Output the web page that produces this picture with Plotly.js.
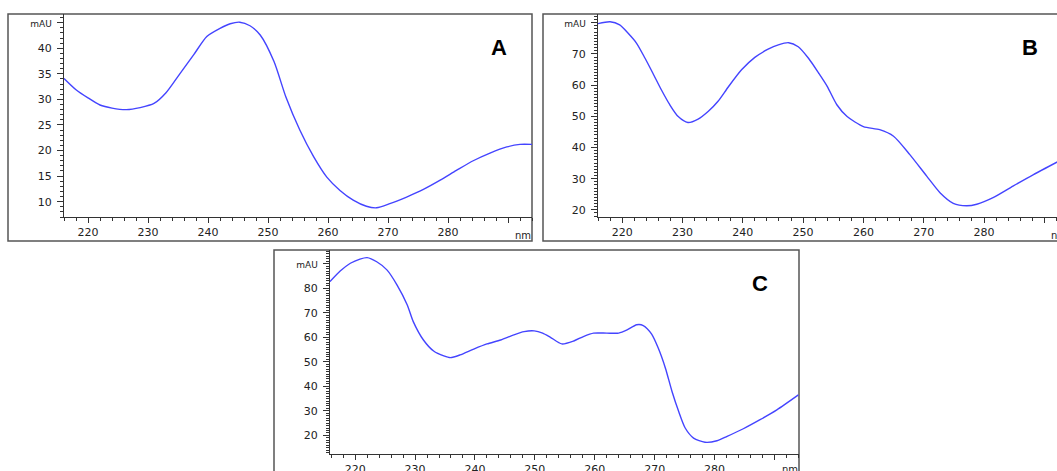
<!DOCTYPE html>
<html>
<head>
<meta charset="utf-8">
<script src="https://cdn.plot.ly/plotly-3.0.1.min.js"></script>
<style>
  html, body { margin: 0; padding: 0; background: #fff; }
  #chart { width: 1057px; height: 471px; }
</style>
</head>
<body>
<div id="chart"></div>
<script>
// UV spectra (absorbance in mAU against wavelength in nm) for three samples
const wavelengthA = [216, 218, 220, 222, 224, 226.4, 228.7, 231, 233, 235.3, 237.6, 239.8, 242, 243.7, 245.3, 247, 248.7, 251, 253, 255.3, 257.6, 259.8, 262, 264.2, 266.4, 268.1, 270.3, 273.1, 275.9, 278.7, 281.4, 284.2, 287, 289.8, 292, 294];
const absorbanceA = [34.1, 31.9, 30.3, 28.9, 28.3, 28.0, 28.4, 29.2, 31.3, 35.0, 38.7, 42.3, 43.9, 44.8, 45.1, 44.4, 42.6, 37.4, 30.4, 24.0, 18.8, 14.8, 12.2, 10.3, 9.1, 8.8, 9.6, 10.9, 12.4, 14.2, 16.1, 18.0, 19.5, 20.7, 21.2, 21.2];

const wavelengthB = [216, 218, 219.6, 221, 222.4, 223.8, 225.1, 226.5, 227.9, 229.3, 230.9, 232.6, 234.3, 235.9, 237.6, 239.8, 242, 244.2, 245.9, 247.6, 249.2, 250.9, 252.6, 254, 255.6, 257.3, 260, 262.7, 265, 267.7, 270.5, 272.7, 274.9, 277.1, 278.8, 281.5, 284.8, 288.2, 292.2];
const absorbanceB = [79.7, 80.3, 79.3, 76.6, 73.4, 68.6, 63.8, 58.5, 53.7, 49.9, 48.0, 49.1, 51.6, 54.8, 59.4, 64.9, 68.9, 71.5, 72.9, 73.6, 72.3, 68.6, 63.8, 59.6, 53.7, 49.9, 46.7, 45.7, 43.6, 37.7, 30.8, 25.5, 22.1, 21.3, 21.8, 23.9, 27.6, 31.3, 35.4];

const wavelengthC = [215.8, 217.5, 219.2, 220.8, 222, 223.6, 225.3, 227, 228.7, 229.7, 231.4, 233.1, 234.8, 235.9, 237.5, 239.8, 242, 244.3, 246.5, 248.2, 249.9, 251.3, 252.6, 254.5, 256.5, 258.1, 259.8, 262, 264, 265.4, 267, 268.1, 269.5, 270.6, 271.8, 272.9, 274, 275.1, 276.5, 278.4, 280.4, 282.1, 284.8, 287.6, 290.4, 294];
const absorbanceC = [82.7, 87.0, 90.2, 91.9, 92.5, 90.8, 87.5, 81.3, 73.2, 66.4, 58.9, 54.4, 52.4, 51.7, 52.8, 55.2, 57.3, 58.9, 61.0, 62.3, 62.6, 61.7, 60.0, 57.3, 58.5, 60.3, 61.7, 61.7, 61.7, 63.0, 65.1, 64.8, 61.3, 55.6, 47.4, 37.9, 29.8, 23.0, 18.9, 17.2, 17.8, 19.6, 22.7, 26.4, 30.4, 36.5];

// Tick positions and labels; the topmost y tick carries the unit instead of a number
const xTickVals = [220, 230, 240, 250, 260, 270, 280, 290];
const xTickText = ['220', '230', '240', '250', '260', '270', '280', ''];
const yTickValsA = [10, 15, 20, 25, 30, 35, 40, 45];
const yTickTextA = ['10', '15', '20', '25', '30', '35', '40', 'mAU'];
const yTickValsB = [20, 30, 40, 50, 60, 70, 80];
const yTickTextB = ['20', '30', '40', '50', '60', '70', 'mAU'];
const yTickValsC = [20, 30, 40, 50, 60, 70, 80, 90];
const yTickTextC = ['20', '30', '40', '50', '60', '70', '80', 'mAU'];
const panelLabels = ['A', 'B', 'C'];
const xUnit = 'nm';

const W = 1057, H = 471;
const px = v => v / W;
const py = v => 1 - v / H;

const lineColor = '#4444ff';
const axisColor = '#333333';
const tickFont = { family: 'DejaVu Sans, Verdana, sans-serif', size: 11, color: '#222' };

function unitText(arr) {
  return arr.map(t => t === 'mAU' ? '<span style="font-size:9px">mAU</span>' : t);
}

function xAxis(domain, range, anchor) {
  return {
    domain: domain, range: range, anchor: anchor,
    showgrid: false, zeroline: false, showline: true, linecolor: axisColor, linewidth: 1,
    ticks: 'outside', ticklen: 5, tickwidth: 1, tickcolor: axisColor,
    tickmode: 'array', tickvals: xTickVals, ticktext: xTickText,
    tickfont: tickFont,
    minor: { dtick: 2, tick0: 220, ticks: 'outside', ticklen: 3, tickcolor: axisColor, showgrid: false }
  };
}

function yAxis(domain, range, anchor, vals, text, minorStep) {
  return {
    domain: domain, range: range, anchor: anchor,
    showgrid: false, zeroline: false, showline: true, linecolor: axisColor, linewidth: 1,
    ticks: 'outside', ticklen: 6, tickwidth: 1, tickcolor: axisColor,
    tickmode: 'array', tickvals: vals, ticktext: unitText(text),
    tickfont: tickFont, ticklabelstandoff: 3,
    minor: { dtick: minorStep, tick0: 0, ticks: 'outside', ticklen: 3, tickcolor: axisColor, showgrid: false }
  };
}

const traces = [
  { x: wavelengthA, y: absorbanceA, xaxis: 'x', yaxis: 'y' },
  { x: wavelengthB, y: absorbanceB, xaxis: 'x2', yaxis: 'y2' },
  { x: wavelengthC, y: absorbanceC, xaxis: 'x3', yaxis: 'y3' }
].map(t => Object.assign(t, {
  type: 'scatter', mode: 'lines', hoverinfo: 'skip', showlegend: false,
  line: { color: lineColor, width: 1.4, shape: 'spline', smoothing: 0.7 },
  cliponaxis: true
}));

const topRowY = [py(217), py(14)];
const bottomRowY = [py(454), py(250)];

const frame = { type: 'rect', xref: 'paper', yref: 'paper', line: { color: '#555', width: 1.5 }, fillcolor: 'rgba(0,0,0,0)', layer: 'below' };

const layout = {
  width: W, height: H,
  margin: { l: 0, r: 0, t: 0, b: 0, pad: 0 },
  paper_bgcolor: '#fff', plot_bgcolor: '#fff',
  font: tickFont,
  xaxis: xAxis([px(64), px(532)], [216, 294], 'y'),
  yaxis: yAxis(topRowY, [7.0, 46.7], 'x', yTickValsA, yTickTextA, 1),
  xaxis2: xAxis([px(598), 1], [216, 292.1], 'y2'),
  yaxis2: yAxis(topRowY, [17.7, 82.8], 'x2', yTickValsB, yTickTextB, 1),
  xaxis3: xAxis([px(330), px(799)], [215.8, 294.1], 'y3'),
  yaxis3: yAxis(bottomRowY, [12.4, 95.6], 'x3', yTickValsC, yTickTextC, 1),
  shapes: [
    Object.assign({}, frame, { x0: px(8), x1: px(532), y0: py(241), y1: py(14) }),
    Object.assign({}, frame, { x0: px(543), x1: 1.05, y0: py(241), y1: py(14) }),
    Object.assign({}, frame, { x0: px(274), x1: px(799), y0: -0.05, y1: py(250) })
  ],
  annotations: [
    { text: '<b>' + panelLabels[0] + '</b>', x: px(499), y: py(48) },
    { text: '<b>' + panelLabels[1] + '</b>', x: px(1030), y: py(48) },
    { text: '<b>' + panelLabels[2] + '</b>', x: px(760), y: py(283.5) }
  ].map(a => Object.assign(a, {
    xref: 'paper', yref: 'paper', showarrow: false, xanchor: 'center', yanchor: 'middle',
    font: { family: 'Liberation Sans, Arial, sans-serif', size: 22, color: '#000' }
  })).concat([
    { x: px(533), y: py(235) },
    { x: px(1049), y: py(235), xanchor: 'left' },
    { x: px(800), y: py(469) }
  ].map(a => Object.assign({
    text: xUnit, xref: 'paper', yref: 'paper', showarrow: false, xanchor: 'right', yanchor: 'middle',
    font: { family: 'DejaVu Sans, Verdana, sans-serif', size: 10, color: '#222' }
  }, a)))
};

Plotly.newPlot('chart', traces, layout, { staticPlot: true, displayModeBar: false });
</script>
</body>
</html>
